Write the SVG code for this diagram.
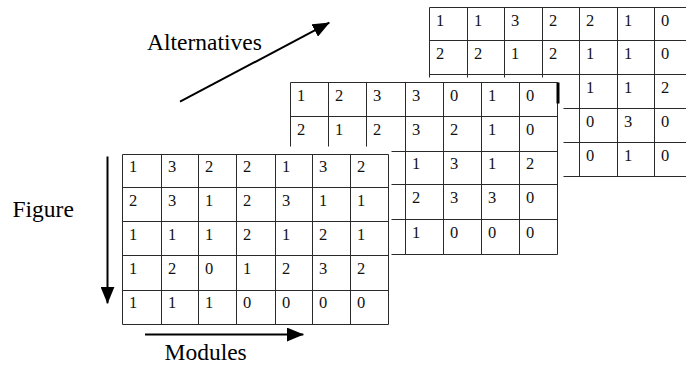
<svg xmlns="http://www.w3.org/2000/svg" width="686" height="365" viewBox="0 0 686 365">
  <defs>
    <marker id="head" markerUnits="userSpaceOnUse" markerWidth="17" markerHeight="14" refX="16.5" refY="7" orient="auto">
      <path d="M0,0 L17,7 L0,14 Z" fill="#000"/>
    </marker>
  </defs>
  <rect width="686" height="365" fill="#ffffff"/>

  <!-- Third layer (alternative 3), partly hidden behind the second -->
  <g id="table-alt3">
    <path fill="none" stroke="#2a2a2a" stroke-width="1" d="M429.5,7.5 H700 M429.5,40.5 H700 M429.5,74.5 H700 M429.5,108.5 H700 M429.5,142.5 H700 M429.5,176.5 H700
      M429.5,7.5 V176.5 M467.5,7.5 V176.5 M504.5,7.5 V176.5 M542.5,7.5 V176.5 M579.5,7.5 V176.5 M617.5,7.5 V176.5 M654.5,7.5 V176.5 M691.5,7.5 V176.5"/>
    <g font-family="Liberation Serif" font-size="16.5" fill="#111">
      <text x="436" y="26">1</text><text x="474" y="26">1</text><text x="511" y="26">3</text><text x="549" y="26">2</text><text x="586" y="26">2</text><text x="624" y="26">1</text><text x="661" y="26">0</text>
      <text x="436" y="59">2</text><text x="474" y="59">2</text><text x="511" y="59">1</text><text x="549" y="59">2</text><text x="586" y="59">1</text><text x="624" y="59">1</text><text x="661" y="59">0</text>
      <text x="586" y="93">1</text><text x="624" y="93">1</text><text x="661" y="93">2</text>
      <text x="586" y="127">0</text><text x="624" y="127">3</text><text x="661" y="127">0</text>
      <text x="586" y="161">0</text><text x="624" y="161">1</text><text x="661" y="161">0</text>
    </g>
  </g>

  <!-- Second layer (alternative 2) -->
  <g id="table-alt2">
    <rect fill="#ffffff" x="284" y="77.5" width="279.5" height="183"/>
    <path fill="none" stroke="#2a2a2a" stroke-width="1" d="M290.5,82.5 H557.5 M290.5,116.5 H557.5 M290.5,151.5 H557.5 M290.5,184.5 H557.5 M290.5,219.5 H557.5 M290.5,254.5 H557.5
      M290.5,82.5 V254.5 M328.5,82.5 V254.5 M366.5,82.5 V254.5 M405.5,82.5 V254.5 M443.5,82.5 V254.5 M481.5,82.5 V254.5 M519.5,82.5 V254.5 M557.5,82.5 V254.5"/>
    <rect x="556.5" y="82.5" width="3" height="21" fill="#000"/>
    <g font-family="Liberation Serif" font-size="16.5" fill="#111">
      <text x="297" y="101">1</text><text x="335" y="101">2</text><text x="373" y="101">3</text><text x="412" y="101">3</text><text x="450" y="101">0</text><text x="488" y="101">1</text><text x="526" y="101">0</text>
      <text x="297" y="135">2</text><text x="335" y="135">1</text><text x="373" y="135">2</text><text x="412" y="135">3</text><text x="450" y="135">2</text><text x="488" y="135">1</text><text x="526" y="135">0</text>
      <text x="412" y="169">1</text><text x="450" y="169">3</text><text x="488" y="169">1</text><text x="526" y="169">2</text>
      <text x="412" y="203">2</text><text x="450" y="203">3</text><text x="488" y="203">3</text><text x="526" y="203">0</text>
      <text x="412" y="238">1</text><text x="450" y="238">0</text><text x="488" y="238">0</text><text x="526" y="238">0</text>
    </g>
  </g>

  <!-- Front layer (alternative 1) -->
  <g id="table-alt1">
    <rect fill="#ffffff" x="116" y="146.5" width="275.5" height="184"/>
    <path fill="none" stroke="#2a2a2a" stroke-width="1" d="M122.5,154.5 H388.5 M122.5,187.5 H388.5 M122.5,221.5 H388.5 M122.5,255.5 H388.5 M122.5,290.5 H388.5 M122.5,324.5 H388.5
      M122.5,154.5 V324.5 M161.5,154.5 V324.5 M198.5,154.5 V324.5 M236.5,154.5 V324.5 M275.5,154.5 V324.5 M312.5,154.5 V324.5 M350.5,154.5 V324.5 M388.5,154.5 V324.5"/>
    <g font-family="Liberation Serif" font-size="16.5" fill="#111">
      <text x="129" y="172">1</text><text x="168" y="172">3</text><text x="205" y="172">2</text><text x="243" y="172">2</text><text x="282" y="172">1</text><text x="319" y="172">3</text><text x="357" y="172">2</text>
      <text x="129" y="206">2</text><text x="168" y="206">3</text><text x="205" y="206">1</text><text x="243" y="206">2</text><text x="282" y="206">3</text><text x="319" y="206">1</text><text x="357" y="206">1</text>
      <text x="129" y="240">1</text><text x="168" y="240">1</text><text x="205" y="240">1</text><text x="243" y="240">2</text><text x="282" y="240">1</text><text x="319" y="240">2</text><text x="357" y="240">1</text>
      <text x="129" y="274">1</text><text x="168" y="274">2</text><text x="205" y="274">0</text><text x="243" y="274">1</text><text x="282" y="274">2</text><text x="319" y="274">3</text><text x="357" y="274">2</text>
      <text x="129" y="308">1</text><text x="168" y="308">1</text><text x="205" y="308">1</text><text x="243" y="308">0</text><text x="282" y="308">0</text><text x="319" y="308">0</text><text x="357" y="308">0</text>
    </g>
  </g>

  <!-- Axis labels -->
  <g id="labels" font-family="Liberation Serif" font-size="23.5" fill="#000">
    <text x="147" y="50">Alternatives</text>
    <text x="12.5" y="216.5">Figure</text>
    <text x="164.5" y="360">Modules</text>
  </g>

  <!-- Axis arrows -->
  <g id="connectors" stroke="#000" stroke-width="2" fill="none">
    <line x1="180" y1="101.7" x2="329.3" y2="22.7" marker-end="url(#head)"/>
    <line x1="107.5" y1="156.5" x2="107.5" y2="303.3" marker-end="url(#head)"/>
    <line x1="145" y1="334.5" x2="303.3" y2="334.5" marker-end="url(#head)"/>
  </g>
</svg>
